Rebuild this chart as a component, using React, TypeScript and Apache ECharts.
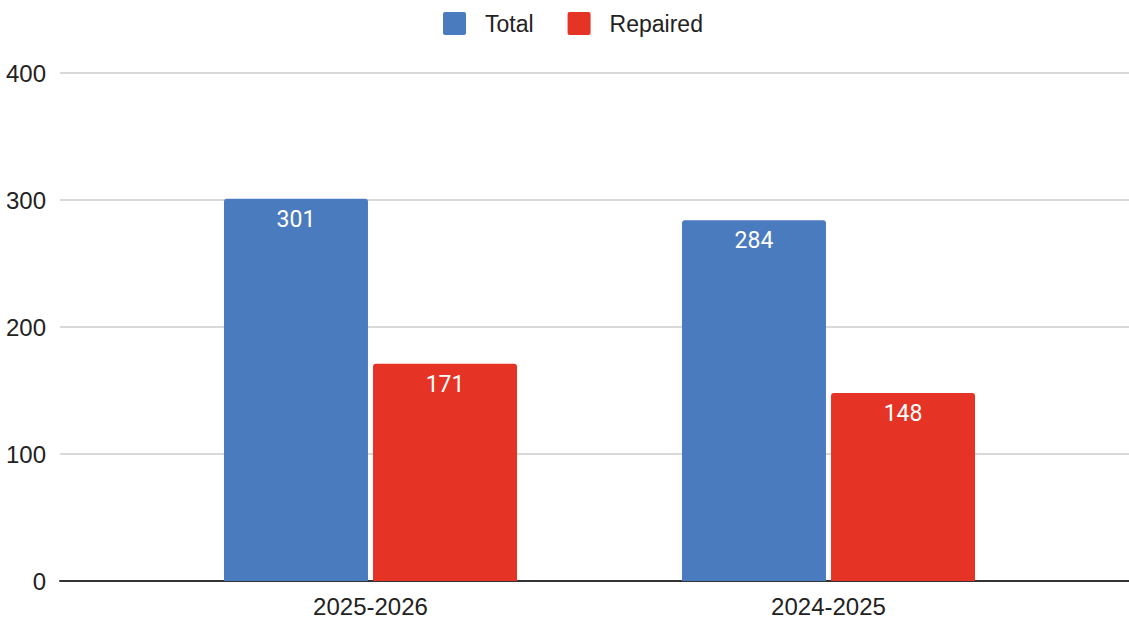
import React, { useEffect, useRef } from "react";
import * as echarts from "echarts";

const categories = ["2025-2026", "2024-2025"];
const totalValues = [301, 284];
const repairedValues = [171, 148];
const yTicks = [0, 100, 200, 300, 400];

export default function App() {
  const ref = useRef<HTMLDivElement>(null);
  useEffect(() => {
    if (!ref.current) return;
    const chart = echarts.init(ref.current, null, { renderer: "svg" });
    const font = "'Liberation Sans', Arial, sans-serif";
    const barFont = "Roboto, Arial, sans-serif";
    const sq = "path://M2,0 H21 A2,2 0 0 1 23,2 V21 A2,2 0 0 1 21,23 H2 A2,2 0 0 1 0,21 V2 A2,2 0 0 1 2,0 Z";
    chart.setOption({
      animation: false,
      textStyle: { fontFamily: font },
      legend: {
        top: 7,
        left: 438,
        itemWidth: 23,
        itemHeight: 23,
        itemGap: 34,
        icon: sq,
        textStyle: {
          fontSize: 23,
          color: "#222",
          fontFamily: font,
          lineHeight: 23,
          padding: [0, 0, 0, 14],
        },
        data: ["Total", "Repaired"],
      },
      grid: [
        { left: 60, right: 0, top: 73, bottom: 38 },
        { left: 141.5, right: 71.5, top: 73, bottom: 38 },
      ],
      xAxis: [
        {
          gridIndex: 0,
          type: "category",
          data: ["", ""],
          axisLine: { show: true, lineStyle: { color: "#333", width: 2 } },
          axisTick: { show: false },
          axisLabel: { show: false },
        },
        {
          gridIndex: 1,
          type: "category",
          data: categories,
          axisLine: { show: false },
          axisTick: { show: false },
          axisLabel: { fontSize: 24, color: "#222", margin: 13, fontFamily: font },
        },
      ],
      yAxis: [
        {
          gridIndex: 0,
          type: "value",
          min: yTicks[0],
          max: yTicks[yTicks.length - 1],
          interval: 100,
          axisLine: { show: false },
          axisTick: { show: false },
          axisLabel: { fontSize: 24, color: "#222", margin: 14, fontFamily: font },
          splitLine: { lineStyle: { color: "#cccccc", width: 1.5 } },
        },
        {
          gridIndex: 1,
          type: "value",
          min: yTicks[0],
          max: yTicks[yTicks.length - 1],
          interval: 100,
          show: false,
          splitLine: { show: false },
        },
      ],
      series: [
        {
          name: "Total",
          type: "bar",
          xAxisIndex: 1,
          yAxisIndex: 1,
          data: totalValues,
          barWidth: 144,
          barGap: "3.5%",
          itemStyle: { color: "#4a7bbe", borderRadius: [3, 3, 0, 0] },
          label: {
            show: true,
            position: "insideTop",
            distance: 9,
            color: "#fff",
            fontSize: 23,
            fontFamily: barFont,
          },
        },
        {
          name: "Repaired",
          type: "bar",
          xAxisIndex: 1,
          yAxisIndex: 1,
          data: repairedValues,
          barWidth: 144,
          barGap: "3.5%",
          itemStyle: { color: "#e53426", borderRadius: [3, 3, 0, 0] },
          label: {
            show: true,
            position: "insideTop",
            distance: 9,
            color: "#fff",
            fontSize: 23,
            fontFamily: barFont,
          },
        },
      ],
    });
    return () => chart.dispose();
  }, []);
  return (
    <div
      ref={ref}
      style={{ position: "fixed", left: 0, top: 0, width: 1129, height: 619, background: "#fff" }}
    />
  );
}
